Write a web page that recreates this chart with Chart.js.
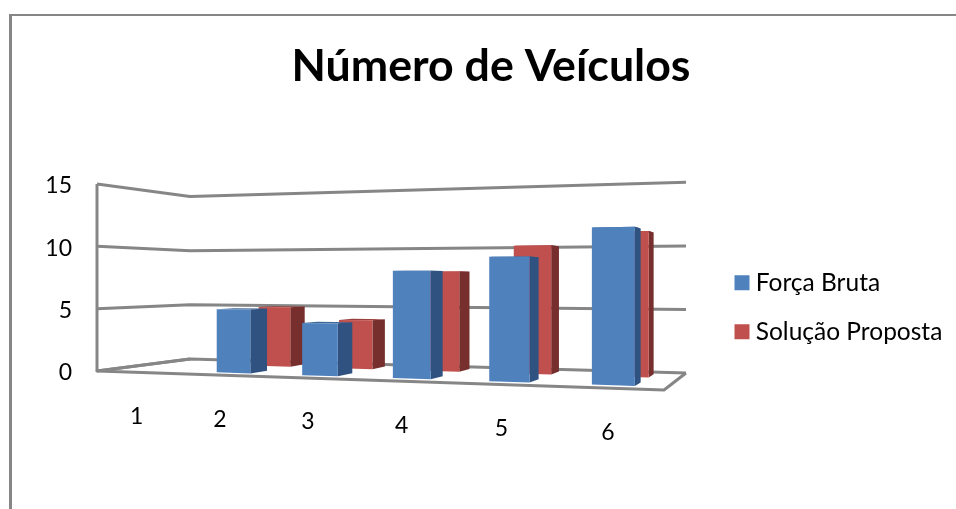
<!DOCTYPE html>
<html>
<head>
<meta charset="utf-8">
<title>Número de Veículos</title>
<script src="https://cdn.jsdelivr.net/npm/chart.js@4"></script>
<style>
    html, body { margin: 0; padding: 0; background: #fff; overflow: hidden; }
    canvas { display: block; }
</style>
</head>
<body>
<canvas id="veiculosChart" width="956" height="509"></canvas>
<script>
var categories = ['1', '2', '3', '4', '5', '6'];
var forcaBruta = [0, 5, 4, 8, 9, 11];
var solucaoProposta = [0, 5, 4, 8, 10, 11];

var GRID_COLOR = '#868686';
var FONT = 'Lato';

// floor of the 3D box on screen: front-left, front-right, back-right, back-left
var floorCorners = [[97, 371], [664, 390], [686, 373], [190, 359]];

// depth of each series row on the floor (0 = front, 1 = back), and column thickness
var seriesDepth = [0.15, 0.65];
var columnDepth = 0.2;
var sideColors = ['#2F5280', '#772F2D'];
var topColors = ['#3F6797', '#98403D'];

// perspective map from the unit floor square to the screen
function buildProjection(q) {
    var dx1 = q[1][0] - q[2][0], dy1 = q[1][1] - q[2][1];
    var dx2 = q[3][0] - q[2][0], dy2 = q[3][1] - q[2][1];
    var sx = q[0][0] - q[1][0] + q[2][0] - q[3][0];
    var sy = q[0][1] - q[1][1] + q[2][1] - q[3][1];
    var den = dx1 * dy2 - dx2 * dy1;
    var g = (sx * dy2 - dx2 * sy) / den;
    var h = (dx1 * sy - sx * dy1) / den;
    var a = q[1][0] - q[0][0] + g * q[1][0];
    var b = q[3][0] - q[0][0] + h * q[3][0];
    var d = q[1][1] - q[0][1] + g * q[1][1];
    var e = q[3][1] - q[0][1] + h * q[3][1];
    // lift is a height in y scale pixels, shrinks with distance like the floor does
    return function(u, z, lift) {
        var w = g * u + h * z + 1;
        return {
            x: (a * u + b * z + q[0][0]) / w,
            y: (d * u + e * z + q[0][1] - lift) / w
        };
    };
}
var project = buildProjection(floorCorners);

function polygon(ctx, points, color) {
    ctx.beginPath();
    points.forEach(function(p, i) {
        if (i === 0) ctx.moveTo(p.x, p.y); else ctx.lineTo(p.x, p.y);
    });
    ctx.closePath();
    ctx.fillStyle = color;
    ctx.fill();
}

function polyline(ctx, points) {
    ctx.beginPath();
    points.forEach(function(p, i) {
        if (i === 0) ctx.moveTo(p.x, p.y); else ctx.lineTo(p.x, p.y);
    });
    ctx.stroke();
}

// x scale pixel to position along the floor width
function slotToFloor(chart, px) {
    var area = chart.chartArea;
    return (px - area.left) / (area.right - area.left);
}

var box3d = {
    id: 'box3d',
    afterLayout: function(chart) {
        // title is centred on the frame, legend sits beside the plot
        chart.titleBlock.left = 26;
        var legend = chart.legend;
        legend.left = 716;
        legend.top = 246;
        legend.bottom = 509;

        // Lato digits sit high, nudge the value labels down
        var y = chart.scales.y;
        var drawLabels = y.drawLabels;
        y.drawLabels = function(area) {
            chart.ctx.save();
            chart.ctx.translate(0, 2);
            drawLabels.call(y, area);
            chart.ctx.restore();
        };
    },
    beforeDraw: function(chart) {
        var ctx = chart.ctx;
        ctx.save();
        ctx.fillStyle = '#fff';
        ctx.fillRect(0, 0, chart.width, chart.height);
        ctx.fillStyle = GRID_COLOR;
        ctx.fillRect(9, 14, 3, chart.height - 14);
        ctx.fillRect(9, 14, chart.width - 9, 2);
        ctx.restore();
    },
    beforeDatasetsDraw: function(chart) {
        var ctx = chart.ctx;
        var y = chart.scales.y;
        var x = chart.scales.x;
        ctx.save();
        ctx.strokeStyle = GRID_COLOR;
        ctx.lineWidth = 3;
        ctx.lineJoin = 'round';

        // walls
        y.ticks.forEach(function(tick, i) {
            var lift = y.bottom - y.getPixelForTick(i);
            polyline(ctx, [project(0, 0, lift), project(0, 1, lift), project(1, 1, lift)]);
        });
        polyline(ctx, [project(0, 0, 0), project(0, 0, y.bottom - y.top)]);

        // floor
        polyline(ctx, [project(0, 1, 0), project(0, 0, 0), project(1, 0, 0), project(1, 1, 0)]);

        // category labels follow the front edge of the floor
        ctx.fillStyle = '#000';
        ctx.font = '23px ' + FONT;
        ctx.textAlign = 'center';
        ctx.textBaseline = 'middle';
        categories.forEach(function(label, i) {
            var p = project(slotToFloor(chart, x.getPixelForTick(i)), 0, 0);
            ctx.fillText(label, p.x, p.y + 44);
        });
        ctx.restore();
    },
    beforeDatasetDraw: function(chart, args) {
        var ctx = chart.ctx;
        var color = chart.data.datasets[args.index].backgroundColor;
        var z0 = seriesDepth[args.index];
        var z1 = z0 + columnDepth;
        ctx.save();
        args.meta.data.forEach(function(bar) {
            var lift = bar.base - bar.y;
            if (lift <= 0) return;
            var u0 = slotToFloor(chart, bar.x - bar.width / 2);
            var u1 = slotToFloor(chart, bar.x + bar.width / 2);
            polygon(ctx, [project(u0, z0, lift), project(u1, z0, lift), project(u1, z1, lift), project(u0, z1, lift)], topColors[args.index]);
            polygon(ctx, [project(u1, z0, 0), project(u1, z1, 0), project(u1, z1, lift), project(u1, z0, lift)], sideColors[args.index]);
            polygon(ctx, [project(u0, z0, 0), project(u1, z0, 0), project(u1, z0, lift), project(u0, z0, lift)], color);
        });
        ctx.restore();
        return false;
    }
};

new Chart(document.getElementById('veiculosChart'), {
    type: 'bar',
    data: {
        labels: categories,
        datasets: [
            { label: 'Força Bruta', data: forcaBruta, backgroundColor: '#4F81BD', borderWidth: 0 },
            { label: 'Solução Proposta', data: solucaoProposta, backgroundColor: '#C0504D', borderWidth: 0 }
        ]
    },
    options: {
        responsive: false,
        animation: false,
        grouped: false,
        categoryPercentage: 1,
        barPercentage: 0.4,
        layout: { padding: { bottom: 138 } },
        plugins: {
            title: {
                display: true,
                text: 'Número de Veículos',
                color: '#000',
                font: { family: FONT, size: 44.7, weight: 'bold', lineHeight: 1.2 },
                padding: { top: 40, bottom: 90.4 }
            },
            legend: {
                position: 'right',
                align: 'start',
                labels: {
                    color: '#000',
                    font: { family: FONT, size: 24.5 },
                    usePointStyle: true,
                    pointStyle: 'rect',
                    boxWidth: 3,
                    boxHeight: 15,
                    padding: 24.5
                }
            },
            tooltip: { enabled: false }
        },
        scales: {
            x: {
                afterFit: function(scale) { scale.height = 0; },
                ticks: { display: false },
                grid: { display: false },
                border: { display: false }
            },
            y: {
                min: 0,
                max: 15,
                afterFit: function(scale) { scale.width = 97; },
                ticks: { stepSize: 5, color: '#000', padding: 25, font: { family: FONT, size: 23 } },
                grid: { display: false, drawTicks: false },
                border: { display: false }
            }
        }
    },
    plugins: [box3d]
});
</script>
</body>
</html>
